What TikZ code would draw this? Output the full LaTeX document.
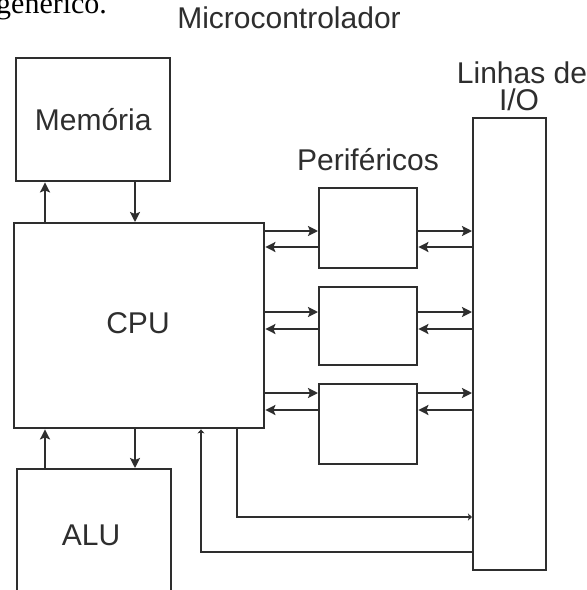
\documentclass[tikz,border=0pt]{standalone}
\usepackage{fontspec}
\setmainfont{Liberation Sans}
\newfontfamily\serifone{Liberation Serif}
\usetikzlibrary{arrows.meta}
\definecolor{ink}{HTML}{2E2E2E}
\begin{document}
\begin{tikzpicture}[x=1pt,y=-1pt,
  box/.style={draw=ink,line width=2.4pt,rectangle,inner sep=0pt,anchor=north west},
  lbl/.style={font=\fontsize{30}{32}\selectfont,text=ink,inner sep=0pt},
  arr/.style={draw=ink,line width=2.3pt,-{Stealth[length=10pt,width=10pt,inset=2pt]}},
  arrs/.style={draw=ink,line width=2.3pt,-{Stealth[length=4pt,width=7pt,inset=1pt]}}]
\useasboundingbox (0,0) rectangle (587,590);
\fill[white] (0,0) rectangle (587,590);
\node[anchor=base west,inner sep=0pt,font=\serifone\fontsize{30}{32}\selectfont] (gen) at (-4,13) {genérico.};
\node[lbl] (title) at (289,18) {Microcontrolador};
\node[box,minimum width=154pt,minimum height=123pt] (mem) at (15,57) {};
\node[lbl] at (mem.center) {Memória};
\node[box,minimum width=250pt,minimum height=205pt] (cpu) at (13,222) {};
\node[lbl] at (138,323) {CPU};
\node[box,minimum width=154pt,minimum height=140pt] (alu) at (16,468) {};
\node[lbl] at (91,535) {ALU};
\node[box,minimum width=98pt,minimum height=80pt] (p1) at (318,187) {};
\node[box,minimum width=98pt,minimum height=78pt] (p2) at (318,286) {};
\node[box,minimum width=98pt,minimum height=80pt] (p3) at (318,383) {};
\node[lbl] (per) at (368,160) {Periféricos};
\node[box,minimum width=73pt,minimum height=452pt] (io) at (472,117) {};
\node[lbl,anchor=base] (lin) at (522,83) {Linhas de};
\node[lbl,anchor=base] (iot) at (519,110) {I/O};
% columns and rows
\coordinate (c1) at (45,0);
\coordinate (c2) at (135,0);
\coordinate (c3) at (201,0);
\coordinate (c4) at (237,0);
\coordinate (r1a) at (0,231);
\coordinate (r1b) at (0,247);
\coordinate (r2a) at (0,312);
\coordinate (r2b) at (0,329);
\coordinate (r3a) at (0,393);
\coordinate (r3b) at (0,410);
\coordinate (r4) at (0,517);
\coordinate (r5) at (0,552);
% memory
\draw[arr] (c1 |- cpu.north) -- (c1 |- mem.south);
\draw[arr] (c2 |- mem.south) -- (c2 |- cpu.north);
% alu
\draw[arr] (c1 |- alu.north) -- (c1 |- cpu.south);
\draw[arr] (c2 |- cpu.south) -- (c2 |- alu.north);
% peripherals
\foreach \p/\a/\b in {p1/r1a/r1b,p2/r2a/r2b,p3/r3a/r3b}{
  \draw[arr] (cpu.east |- \a) -- (\p.west |- \a);
  \draw[arr] (\p.west |- \b) -- (cpu.east |- \b);
  \draw[arr] (\p.east |- \a) -- (io.west |- \a);
  \draw[arr] (io.west |- \b) -- (\p.east |- \b);
}
% direct lines
\draw[arrs] (c4 |- cpu.south) -- (c4 |- r4) -- (io.west |- r4);
\draw[arrs] (io.west |- r5) -- (c3 |- r5) -- (c3 |- cpu.south);
\end{tikzpicture}
\end{document}
